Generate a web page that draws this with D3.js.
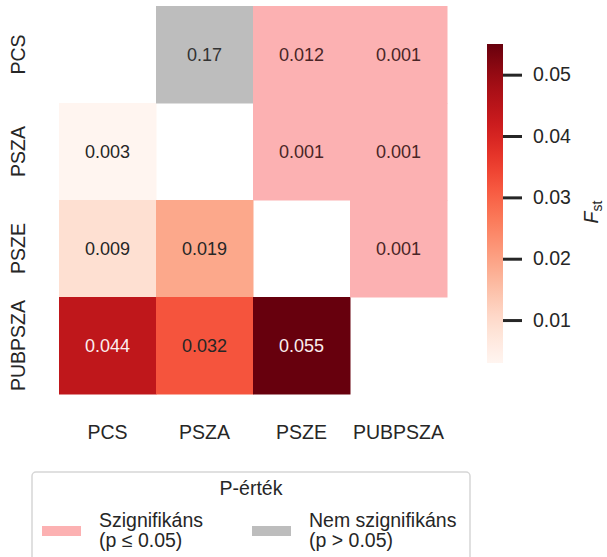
<!DOCTYPE html>
<html>
<head>
<meta charset="utf-8">
<script src="https://cdn.jsdelivr.net/npm/d3@7"></script>
<style>
  html, body { margin: 0; padding: 0; background: #fff; }
  svg { display: block; font-family: "Liberation Sans", Arial, sans-serif; }
</style>
</head>
<body>
<svg id="chart" width="607" height="557"></svg>
<script>
// ---- data ----
const categories = ["PCS", "PSZA", "PSZE", "PUBPSZA"];
// lower triangle: Fst values (row = y category, col = x category)
const fstRows = ["PSZA", "PSZE", "PSZE", "PUBPSZA", "PUBPSZA", "PUBPSZA"];
const fstCols = ["PCS", "PCS", "PSZA", "PCS", "PSZA", "PSZE"];
const fstValues = [0.003, 0.009, 0.019, 0.044, 0.032, 0.055];
const fstLabels = ["0.003", "0.009", "0.019", "0.044", "0.032", "0.055"];
// upper triangle: p-values
const pRows = ["PCS", "PCS", "PCS", "PSZA", "PSZA", "PSZE"];
const pCols = ["PSZA", "PSZE", "PUBPSZA", "PSZE", "PUBPSZA", "PUBPSZA"];
const pValues = [0.17, 0.012, 0.001, 0.001, 0.001, 0.001];
const pLabels = ["0.17", "0.012", "0.001", "0.001", "0.001", "0.001"];
const colorbarTicks = [0.01, 0.02, 0.03, 0.04, 0.05];
const fstDomain = [0.003, 0.055];
const legendTitle = "P-érték";
const legendItems = [
  { lines: ["Szignifikáns", "(p ≤ 0.05)"], color: "#fcb1b2" },
  { lines: ["Nem szignifikáns", "(p > 0.05)"], color: "#bdbdbd" }
];

// ---- drawing ----
const svg = d3.select("#chart");
const FONT = 19.5;
const x = d3.scaleBand().domain(categories).range([59, 447]);
const y = d3.scaleBand().domain(categories).range([6, 394]);
const color = d3.scaleSequential(d3.interpolateReds).domain(fstDomain);
const sigColor = legendItems[0].color, nsColor = legendItems[1].color;

const fstData = fstValues.map((v, i) => ({ r: fstRows[i], c: fstCols[i], v, label: fstLabels[i] }));
const pData = pValues.map((v, i) => ({ r: pRows[i], c: pCols[i], v, label: pLabels[i] }));

const g = svg.append("g");
g.selectAll("rect.fst").data(fstData).join("rect")
  .attr("x", d => x(d.c)).attr("y", d => y(d.r))
  .attr("width", x.bandwidth() + 0.5).attr("height", y.bandwidth() + 0.5)
  .attr("fill", d => color(d.v));
g.selectAll("rect.p").data(pData).join("rect")
  .attr("x", d => x(d.c)).attr("y", d => y(d.r))
  .attr("width", x.bandwidth() + 0.5).attr("height", y.bandwidth() + 0.5)
  .attr("fill", d => d.v <= 0.05 ? sigColor : nsColor);

function lum(c) { const r = d3.rgb(c); return (0.299 * r.r + 0.587 * r.g + 0.114 * r.b) / 255; }
g.selectAll("text.fst").data(fstData).join("text")
  .attr("x", d => x(d.c) + x.bandwidth() / 2).attr("y", d => y(d.r) + y.bandwidth() / 2)
  .attr("dy", "0.35em").attr("text-anchor", "middle").attr("font-size", 18)
  .attr("fill", d => lum(color(d.v)) < 0.5 ? "#fbeeee" : "#262626")
  .text(d => d.label);
g.selectAll("text.p").data(pData).join("text")
  .attr("x", d => x(d.c) + x.bandwidth() / 2).attr("y", d => y(d.r) + y.bandwidth() / 2)
  .attr("dy", "0.35em").attr("text-anchor", "middle").attr("font-size", 18)
  .attr("fill", d => d.v <= 0.05 ? "#4a2526" : "#333333")
  .text(d => d.label);

// x axis labels
const xAxis = svg.append("g").attr("transform", "translate(0,394)")
  .call(d3.axisBottom(x).tickSize(0).tickPadding(31));
xAxis.select(".domain").remove();
xAxis.selectAll("text").attr("font-size", FONT).attr("fill", "#262626")
  .attr("font-family", "Liberation Sans, Arial, sans-serif");

// y axis labels (rotated)
const yAxis = svg.append("g").attr("transform", "translate(59,0)")
  .call(d3.axisLeft(y).tickSize(0).tickPadding(0));
yAxis.select(".domain").remove();
yAxis.selectAll("text")
  .attr("font-size", FONT).attr("fill", "#262626")
  .attr("font-family", "Liberation Sans, Arial, sans-serif")
  .attr("text-anchor", "middle").attr("x", null).attr("dy", null)
  .attr("transform", "translate(-34,0) rotate(-90)");

// colorbar
const cb = { x: 487, w: 16, top: 44, bottom: 363 };
const cy = d3.scaleLinear().domain(fstDomain).range([cb.bottom, cb.top]);
const defs = svg.append("defs");
const grad = defs.append("linearGradient").attr("id", "cbgrad")
  .attr("x1", 0).attr("y1", 1).attr("x2", 0).attr("y2", 0);
d3.range(0, 1.0001, 0.05).forEach(t => {
  grad.append("stop").attr("offset", t).attr("stop-color", d3.interpolateReds(t));
});
svg.append("rect").attr("x", cb.x).attr("y", cb.top)
  .attr("width", cb.w).attr("height", cb.bottom - cb.top).attr("fill", "url(#cbgrad)");
const cAxis = svg.append("g").attr("transform", `translate(${cb.x + cb.w},0)`)
  .call(d3.axisRight(cy).tickValues(colorbarTicks).tickSize(19).tickPadding(11)
    .tickFormat(d3.format(".2f")));
cAxis.select(".domain").remove();
cAxis.selectAll("line").attr("stroke", "#262626").attr("stroke-width", 3);
cAxis.selectAll("text").attr("font-size", FONT).attr("fill", "#262626")
  .attr("font-family", "Liberation Sans, Arial, sans-serif");

const fl = svg.append("text").attr("transform", "translate(598,212) rotate(-90)")
  .attr("text-anchor", "middle").attr("font-size", FONT).attr("fill", "#262626");
fl.append("tspan").attr("font-style", "italic").text("F");
fl.append("tspan").attr("font-size", 14).attr("dy", 4).text("st");

// legend
const lg = svg.append("g");
lg.append("rect").attr("x", 32).attr("y", 472).attr("width", 438).attr("height", 100)
  .attr("rx", 4).attr("fill", "#fff").attr("stroke", "#d6d6d6").attr("stroke-width", 1.5);
lg.append("text").attr("x", 251).attr("y", 495).attr("text-anchor", "middle")
  .attr("font-size", FONT).attr("fill", "#262626").text(legendTitle);
const itemX = [42, 252];
legendItems.forEach((it, i) => {
  lg.append("rect").attr("x", itemX[i]).attr("y", 526).attr("width", 39).attr("height", 10)
    .attr("fill", it.color);
  const t = lg.append("text").attr("x", itemX[i] + 57).attr("y", 527)
    .attr("font-size", FONT).attr("fill", "#262626");
  it.lines.forEach((ln, j) => {
    t.append("tspan").attr("x", itemX[i] + 57).attr("dy", j === 0 ? 0 : 20).text(ln);
  });
});
</script>
</body>
</html>
